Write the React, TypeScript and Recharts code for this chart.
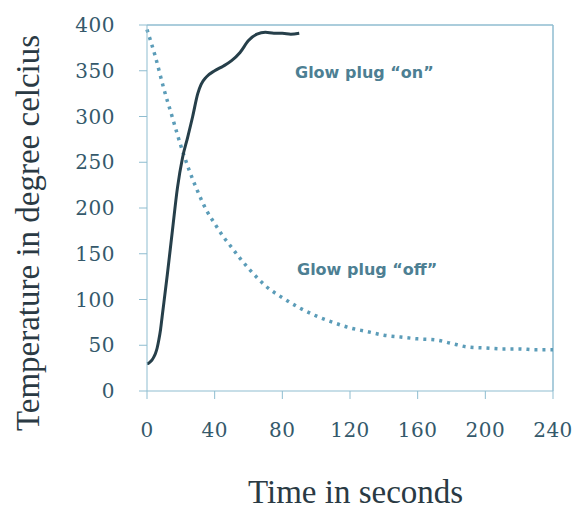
import React from 'react';
import { LineChart, Line, XAxis, YAxis, ReferenceLine } from 'recharts';

const xTicks = [0, 40, 80, 120, 160, 200, 240];
const yTicks = [0, 50, 100, 150, 200, 250, 300, 350, 400];

const onTime = [0, 1, 2, 3, 4, 5, 6, 7, 8, 9, 12, 15, 18, 21, 24, 27, 30, 32, 35, 40, 45, 50, 55, 60, 65, 70, 75, 80, 85, 90];
const onTemp = [30, 30.5, 32, 34, 37, 41, 47, 56, 67, 82, 127, 175, 222, 255, 277, 300, 325, 335, 343, 350, 355, 361, 370, 383, 390, 392, 391, 391, 390, 391];

const offTime = [0, 5, 10, 15, 20, 25, 30, 35, 40, 45, 50, 55, 60, 65, 70, 80, 90, 100, 110, 120, 130, 140, 150, 160, 170, 180, 190, 200, 210, 220, 230, 240];
const offTemp = [395, 365, 330, 299, 268, 241, 218, 198, 183, 169, 157, 145, 134, 124, 115, 102, 91, 82, 75, 69, 65, 61, 59, 57, 56, 52, 48, 47, 46, 46, 45, 45];

const onData = onTime.map((t, i) => ({ t, v: onTemp[i] }));
const offData = offTime.map((t, i) => ({ t, v: offTemp[i] }));

const axisColor = '#8fbdd0';
const tickStyle = { fontFamily: 'DejaVu Serif', fontSize: 20, fill: '#34596b', letterSpacing: 0.5 };
const noteStyle: React.CSSProperties = {
  position: 'absolute',
  fontFamily: 'DejaVu Sans',
  fontWeight: 700,
  fontSize: 16,
  color: '#4d7f93',
  whiteSpace: 'nowrap',
  lineHeight: 1,
};
const titleStyle: React.CSSProperties = {
  position: 'absolute',
  fontFamily: 'Liberation Serif',
  fontSize: 33,
  color: '#2a3a44',
  whiteSpace: 'nowrap',
  lineHeight: 1,
};

export default function App() {
  return (
    <div style={{ position: 'absolute', left: 0, top: 0, width: 573, height: 512, background: '#fff' }}>
      <LineChart
        width={573}
        height={512}
        margin={{ top: 25, right: 20, bottom: 81, left: 87 }}
      >
        <XAxis
          type="number"
          dataKey="t"
          domain={[0, 240]}
          ticks={xTicks}
          allowDuplicatedCategory={false}
          stroke={axisColor}
          tick={tickStyle}
          tickSize={8}
          tickMargin={24}
          height={40}
        />
        <YAxis
          type="number"
          dataKey="v"
          domain={[0, 400]}
          ticks={yTicks}
          stroke={axisColor}
          tick={tickStyle}
          tickSize={8}
          tickMargin={24}
          width={60}
        />
        <ReferenceLine y={400} stroke={axisColor} strokeWidth={1.5} />
        <ReferenceLine x={240} stroke={axisColor} strokeWidth={1.5} />
        <Line
          data={offData}
          dataKey="v"
          type="monotone"
          stroke="#5b9cb8"
          strokeWidth={3.5}
          strokeDasharray="3 5"
          dot={false}
          isAnimationActive={false}
        />
        <Line
          data={onData}
          dataKey="v"
          type="monotone"
          stroke="#263f4a"
          strokeWidth={3}
          dot={false}
          isAnimationActive={false}
        />
      </LineChart>
      <div style={{ ...noteStyle, left: 295, top: 65 }}>Glow plug “on”</div>
      <div style={{ ...noteStyle, left: 297, top: 262 }}>Glow plug “off”</div>
      <div style={{ ...titleStyle, left: 248, top: 476 }}>Time in seconds</div>
      <div
        style={{
          ...titleStyle,
          left: 28,
          top: 233,
          transform: 'translate(-50%, -50%) rotate(-90deg)',
        }}
      >
        Temperature in degree celcius
      </div>
    </div>
  );
}
